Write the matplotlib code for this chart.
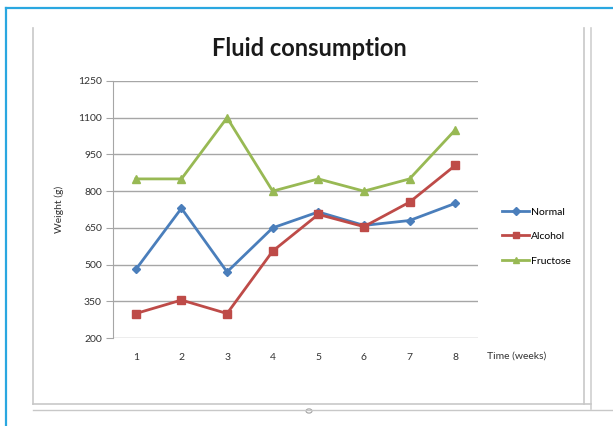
import matplotlib
matplotlib.use("Agg")
import matplotlib.pyplot as plt
from matplotlib.lines import Line2D
from matplotlib.patches import Circle

plt.rcParams['font.family'] = ['Lato', 'DejaVu Sans']

weeks = [1, 2, 3, 4, 5, 6, 7, 8]
normal = [480, 730, 470, 650, 715, 660, 680, 750]
alcohol = [300, 355, 300, 555, 705, 655, 755, 905]
fructose = [850, 850, 1100, 800, 850, 800, 850, 1050]
yticks = [200, 350, 500, 650, 800, 950, 1100, 1250]

W, H = 613, 426
fig = plt.figure(figsize=(W / 100, H / 100), dpi=100)


def px(x, y):
    return x / W, 1 - y / H


def fig_line(x0, y0, x1, y1, color, lw):
    a, b = px(x0, y0)
    c, d = px(x1, y1)
    fig.add_artist(Line2D([a, c], [b, d], color=color, lw=lw,
                          transform=fig.transFigure))


# outer page border (blue) and chart frame (gray)
fig_line(6, 8, 613, 8, '#2aa7e0', 1.6)
fig_line(6, 8, 6, 426, '#2aa7e0', 1.6)
fig_line(33, 28, 33, 404, '#c8c8c8', 1.2)
fig_line(584, 28, 584, 404, '#c8c8c8', 1.2)
fig_line(591, 28, 591, 409, '#d0d0d0', 1.2)
fig_line(33, 404, 591, 404, '#c8c8c8', 1.2)
fig_line(33, 410, 613, 410, '#c8c8c8', 1.0)
cx, cy = px(309, 411)
fig.add_artist(Circle((cx, cy), 3 / W, transform=fig.transFigure,
                      facecolor='white', edgecolor='#a0a0a0', lw=0.8))

left, bottom = px(113, 338)
right, top = px(478, 81)
ax = fig.add_axes([left, bottom, right - left, top - bottom])

ax.plot(weeks, normal, color='#4a7ebb', lw=2.0, marker='D', ms=4.5, label='Normal')
ax.plot(weeks, alcohol, color='#be4b48', lw=2.0, marker='s', ms=5.5, label='Alcohol')
ax.plot(weeks, fructose, color='#98b954', lw=2.0, marker='^', ms=6, label='Fructose')

ax.set_xlim(0.5, 8.5)
ax.set_ylim(200, 1250)
ax.set_yticks(yticks)
ax.set_xticks(weeks)
ax.grid(axis='y', color='#a6a6a6', lw=1.0)
ax.set_axisbelow(True)
for s in ['top', 'right', 'bottom']:
    ax.spines[s].set_visible(False)
ax.spines['left'].set_color('#a6a6a6')
ax.tick_params(axis='y', length=5, color='#a6a6a6', labelsize=7.5, labelcolor='#333333', pad=3)
ax.tick_params(axis='x', length=0, labelsize=7.5, labelcolor='#333333', pad=11)

# title is centred on the whole chart frame, not the plot area
tx, ty = px(309, 48)
fig.text(tx, ty, 'Fluid consumption', fontsize=17, fontweight='bold',
         color='#1a1a1a', ha='center', va='center')
ax.set_ylabel('Weight (g)', fontsize=7.5, color='#333333', labelpad=10)
ax.text(1.025, -0.07, 'Time (weeks)', transform=ax.transAxes, fontsize=7.5,
        color='#333333', ha='left', va='center')

ax.legend(loc='center left', bbox_to_anchor=(1.04, 0.395), frameon=False,
          fontsize=7.5, handlelength=2.6, handletextpad=0.2, labelspacing=1.45,
          markerscale=0.8)

fig.savefig('out.png', dpi=100)
